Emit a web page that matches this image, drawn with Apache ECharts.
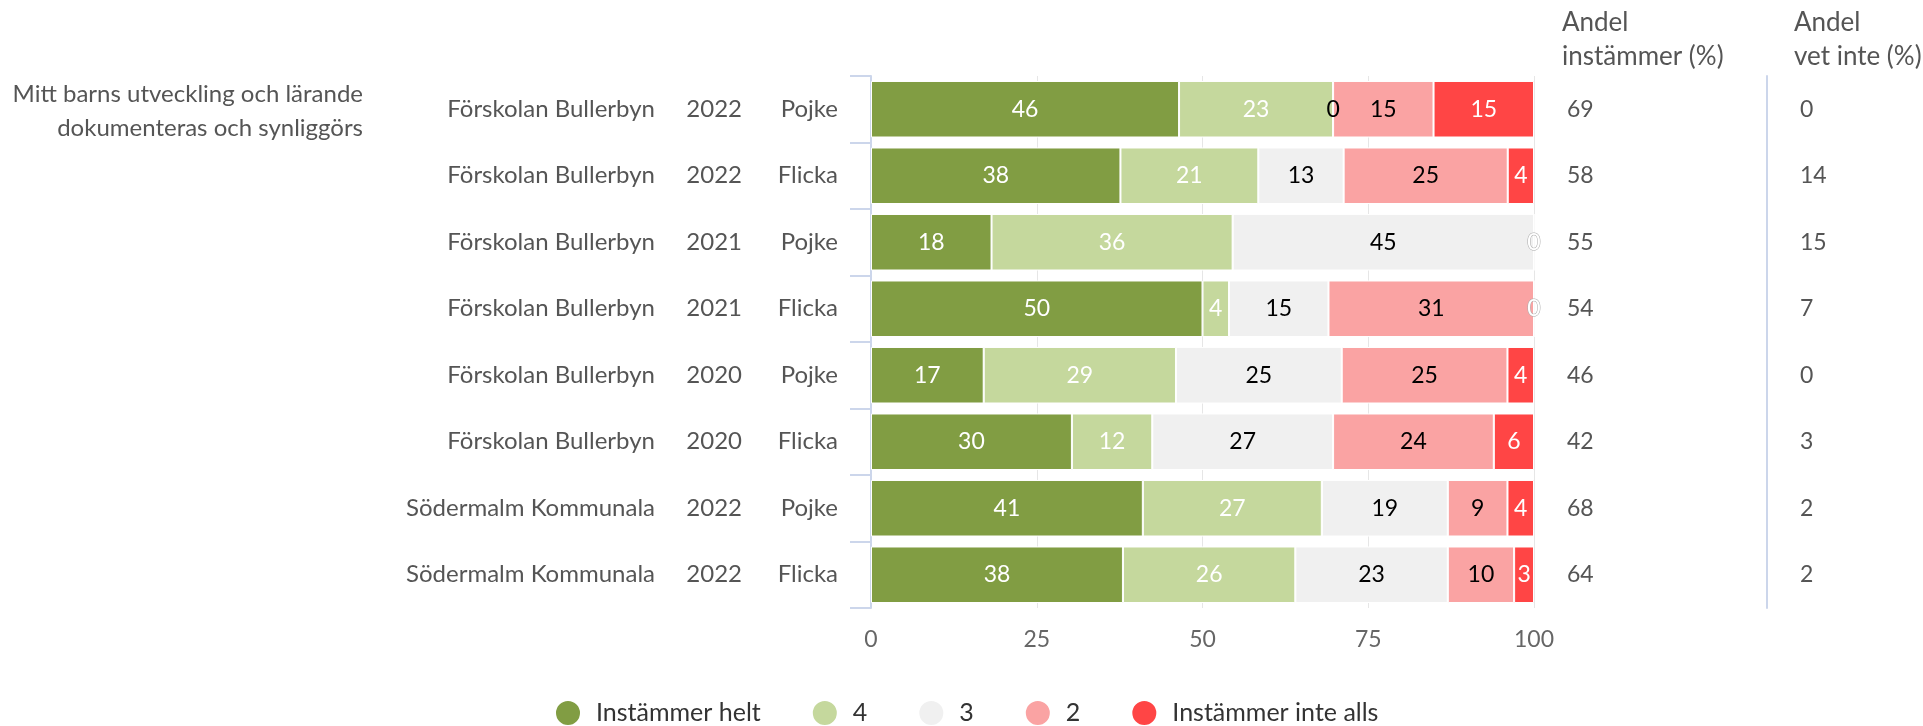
<!DOCTYPE html>
<html>
<head>
<meta charset="utf-8">
<script src="https://cdn.jsdelivr.net/npm/echarts@6/dist/echarts.min.js"></script>
<style>
html,body{margin:0;padding:0;background:#fff;}
#chart{width:1923px;height:726px;}
</style>
</head>
<body>
<div id="chart"></div>
<script>
const groupLabel = 'Mitt barns utveckling och lärande\ndokumenteras och synliggörs';
const schools = ['Förskolan Bullerbyn','Förskolan Bullerbyn','Förskolan Bullerbyn','Förskolan Bullerbyn','Förskolan Bullerbyn','Förskolan Bullerbyn','Södermalm Kommunala','Södermalm Kommunala'];
const years = ['2022','2022','2021','2021','2020','2020','2022','2022'];
const genders = ['Pojke','Flicka','Pojke','Flicka','Pojke','Flicka','Pojke','Flicka'];

const seriesNames = ['Instämmer helt','4','3','2','Instämmer inte alls'];
const instammerHelt = [46,38,18,50,17,30,41,38];
const varde4 = [23,21,36,4,29,12,27,26];
const varde3 = [0,13,45,15,25,27,19,23];
const varde2 = [15,25,null,31,25,24,9,10];
const instammerInteAlls = [15,4,0,0,4,6,4,3];

const andelInstammer = [69,58,55,54,46,42,68,64];
const andelVetInte = [0,14,15,7,0,3,2,2];
const xTicks = [0,25,50,75,100];

const headerInstammer = 'Andel\ninstämmer (%)';
const headerVetInte = 'Andel\nvet inte (%)';

const colors = ['#819d43','#c5d89d','#f0f0f0','#faa3a3','#ff4545'];
const labelColors = ['#fff','#fff','#000','#000','#fff'];
const FONT = 'Lato';
const TXT = '#555';

const allSeries = [instammerHelt, varde4, varde3, varde2, instammerInteAlls];
const rowTotals = schools.map((_, i) => allSeries.reduce((s, arr) => s + (arr[i] || 0), 0));
const categories = schools.map((s, i) => i);

const chart = echarts.init(document.getElementById('chart'), null, {renderer: 'canvas'});

const series = allSeries.map((arr, si) => ({
  name: seriesNames[si],
  type: 'bar',
  stack: 'total',
  barCategoryGap: '15%',
  itemStyle: {color: colors[si], borderColor: '#fff', borderWidth: 1},
  label: {
    show: true,
    position: 'inside',
    color: labelColors[si],
    fontFamily: FONT,
    fontSize: 23,
    formatter: p => p.data.raw
  },
  data: arr.map((v, i) => {
    if (v === null) return {value: null, raw: ''};
    const item = {value: v / rowTotals[i] * 100, raw: v};
    if (v === 0 && labelColors[si] === '#fff') {
      item.label = {textBorderColor: '#aaa', textBorderWidth: 1};
    }
    return item;
  })
}));

const option = {
  animation: false,
  textStyle: {fontFamily: FONT},
  color: colors,
  grid: {left: 871, right: 389, top: 76, height: 532, containLabel: false},
  legend: {
    top: 694,
    left: 549,
    icon: 'circle',
    itemWidth: 26,
    itemHeight: 26,
    itemGap: 50,
    textStyle: {fontFamily: FONT, fontSize: 25, color: '#333', padding: [0,0,0,10]},
    data: seriesNames
  },
  xAxis: {
    type: 'value',
    min: 0, max: 100, interval: 25,
    axisLine: {show: false},
    axisTick: {show: false},
    splitLine: {show: true, lineStyle: {color: '#e6e6e6', width: 1}},
    axisLabel: {color: '#666', fontFamily: FONT, fontSize: 23, margin: 20,
      formatter: v => xTicks.includes(v) ? String(v) : ''}
  },
  yAxis: [
    {
      type: 'category',
      inverse: true,
      data: categories,
      axisLine: {show: true, lineStyle: {color: '#ccd6eb', width: 2}},
      axisTick: {show: true, length: 21, lineStyle: {color: '#ccd6eb', width: 2}},
      axisLabel: {
        margin: 33,
        fontFamily: FONT,
        fontSize: 24,
        color: TXT,
        formatter: i => '{a|' + schools[i] + '}{b|' + years[i] + '}{c|' + genders[i] + '}',
        rich: {
          a: {align: 'right', width: 270, fontFamily: FONT, fontSize: 24, color: TXT},
          b: {align: 'right', width: 87, fontFamily: FONT, fontSize: 24, color: TXT},
          c: {align: 'right', width: 96, fontFamily: FONT, fontSize: 24, color: TXT}
        }
      }
    },
    {
      type: 'category',
      inverse: true,
      position: 'right',
      data: andelInstammer.map(String),
      axisLine: {show: false},
      axisTick: {show: false},
      axisLabel: {margin: 33, align: 'left', fontFamily: FONT, fontSize: 23, color: TXT}
    },
    {
      type: 'category',
      inverse: true,
      position: 'right',
      offset: 233,
      data: andelVetInte.map(String),
      axisLine: {show: true, lineStyle: {color: '#ccd6eb', width: 2}},
      axisTick: {show: false},
      axisLabel: {margin: 33, align: 'left', fontFamily: FONT, fontSize: 23, color: TXT}
    }
  ],
  graphic: [
    {type: 'text', x: 363, y: 111, style: {text: groupLabel, align: 'right', verticalAlign: 'middle', fontFamily: FONT, fontSize: 24, lineHeight: 34, fill: TXT}},
    {type: 'text', x: 1562, y: 40, style: {text: headerInstammer, align: 'left', verticalAlign: 'middle', fontFamily: FONT, fontSize: 26, lineHeight: 34, fill: TXT}},
    {type: 'text', x: 1794, y: 40, style: {text: headerVetInte, align: 'left', verticalAlign: 'middle', fontFamily: FONT, fontSize: 26, lineHeight: 34, fill: TXT}}
  ],
  series: series
};
chart.setOption(option);
</script>
</body>
</html>
